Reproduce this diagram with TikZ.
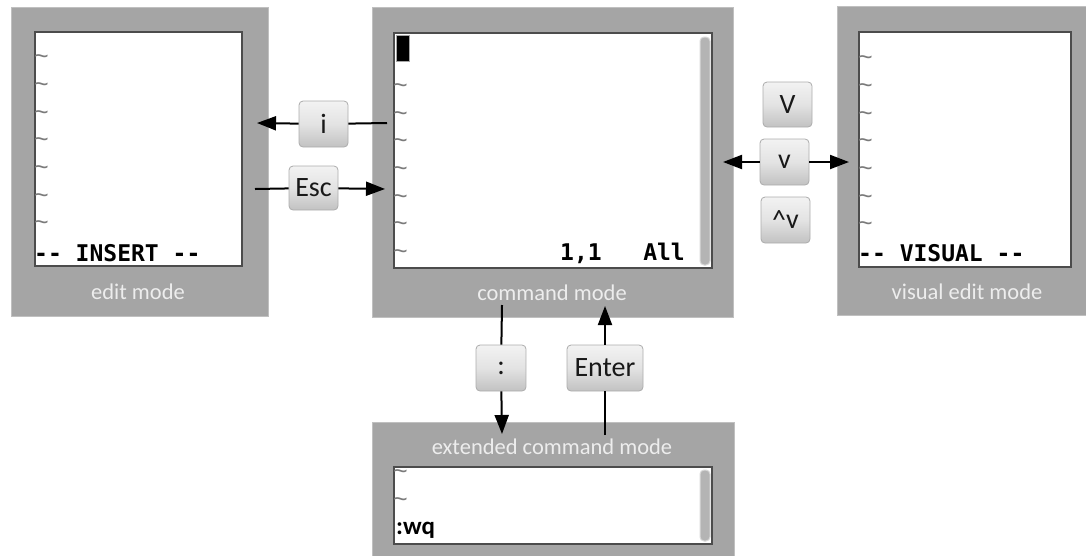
\documentclass[tikz,border=0pt]{standalone}
\usepackage{fontspec}
\setmainfont{Carlito}
\newfontfamily\monofnt{DejaVu Sans Mono}
\newfontfamily\tildefnt{Liberation Sans}
\usetikzlibrary{arrows.meta}
\definecolor{boxgray}{HTML}{A5A5A5}
\definecolor{labgray}{HTML}{EDEDED}
\definecolor{tildegray}{HTML}{7A7A7A}
\definecolor{scrollgray}{HTML}{B4B4B4}
\tikzset{
  modebox/.style={fill=boxgray, draw=boxgray!70!white, line width=0.8pt},
  screen/.style={fill=white, draw=black!70, line width=1.5pt},
  modelabel/.style={text=labgray, font=\fontsize{22.5}{24}\selectfont, inner sep=0pt},
  tld/.style={anchor=west, inner sep=0pt, text=tildegray, font=\tildefnt\fontsize{25}{25}\selectfont},
  monotxt/.style={inner sep=0pt, font=\monofnt\bfseries\fontsize{23}{23}\selectfont},
  keybox/.style={rounded corners=4pt, draw=gray!65, line width=0.8pt,
    top color=gray!10, bottom color=gray!48, middle color=gray!22,
    minimum width=49pt, minimum height=46pt, inner sep=0pt,
    text=black!90, font=\fontsize{28}{28}\selectfont},
  conn/.style={line width=2pt, black},
  tip/.style={-{Triangle[length=19pt,width=14pt]}},
  scroll/.style={fill=scrollgray, draw=gray!30, line width=1pt, rounded corners=4pt}
}
\begin{document}
\begin{tikzpicture}[x=1pt,y=-1pt]
\useasboundingbox (0,0) rectangle (1086,555);
% mode boxes
\node[modebox, minimum width=257pt, minimum height=309pt, inner sep=0pt] (editbox) at (139.5,161.5) {};
\node[modebox, minimum width=361pt, minimum height=310pt, inner sep=0pt] (cmdbox) at (552.5,162) {};
\node[modebox, minimum width=251pt, minimum height=309pt, inner sep=0pt] (visbox) at (962.5,160.5) {};
\node[modebox, minimum width=362pt, minimum height=135pt, inner sep=0pt] (extbox) at (553,490) {};
% screens
\node[screen, minimum width=207pt, minimum height=234pt, inner sep=0pt] (editscr) at (138.5,149) {};
\node[screen, minimum width=318pt, minimum height=235pt, inner sep=0pt] (cmdscr) at (553,150.5) {};
\node[screen, minimum width=212pt, minimum height=235pt, inner sep=0pt] (visscr) at (965,149.5) {};
\node[screen, minimum width=318pt, minimum height=77pt, inner sep=0pt] (extscr) at (553,505.5) {};
% labels
\node[modelabel] (editlab) at (138,292) {edit mode};
\node[modelabel] (cmdlab) at (552,293) {command mode};
\node[modelabel] (vislab) at (967,292) {visual edit mode};
\node[modelabel] (extlab) at (552,447) {extended command mode};
% scrollbars
\node[scroll, minimum width=10pt, minimum height=228pt, inner sep=0pt] (cmdscroll) at (705,151) {};
\node[scroll, minimum width=10pt, minimum height=71pt, inner sep=0pt] (extscroll) at (705,505.5) {};
% tildes
\foreach \yy [count=\k] in {60,88,116,143,171,199,226} {
  \node[tld] (et\k) at (34,\yy) {\textasciitilde};
  \node[tld] (vt\k) at (858,\yy+0.5) {\textasciitilde};
}
\foreach \yy [count=\k] in {89,117,144,172,200,227,255} {
  \node[tld] (ct\k) at (393,\yy) {\textasciitilde};
}
\node[tld] (xt1) at (393,475) {\textasciitilde};
\node[tld] (xt2) at (393,503) {\textasciitilde};
% cursor
\node[fill=black, draw=gray!70, line width=0.8pt, minimum width=13pt, minimum height=26pt, inner sep=0pt] (cursor) at (402.5,48) {};
% status texts
\node[monotxt, anchor=west] (ins) at (34,253) {-- INSERT --};
\node[monotxt, anchor=west] (vis) at (858,253) {-- VISUAL --};
\node[monotxt, anchor=east] (pos) at (685,253) {1,1\ \ \ All};
\node[anchor=west, inner sep=0pt, font=\bfseries\fontsize{25}{25}\selectfont] (wq) at (396,530) {:wq};
% keys
\node[keybox] (ikey) at (323.5,124) {i};
\node[keybox, minimum height=44pt] (esckey) at (313.5,188) {Esc};
\node[keybox, minimum height=45pt] (Vkey) at (787.5,104.5) {V};
\node[keybox] (vkey) at (784.5,162) {v};
\node[keybox] (cvkey) at (785.5,220) {\raisebox{-1pt}{\^{}}v};
\node[keybox, minimum width=50pt] (colkey) at (501,368) {:};
\node[keybox, minimum width=76pt] (enterkey) at (605,368) {Enter};
% connector endpoints
\coordinate (istart) at (387,123);
\coordinate (iend) at (257,123);
\coordinate (escstart) at (255,189);
\coordinate (escend) at (385,189);
\coordinate (vleft) at (723,162);
\coordinate (vright) at (849,162);
\coordinate (colstart) at (502,305);
\coordinate (colend) at (502,434);
\coordinate (entstart) at (605,435);
\coordinate (entend) at (605,306);
% connectors
\draw[conn] (istart) -- (ikey);
\draw[conn, tip] (ikey) -- (iend);
\draw[conn] (escstart) -- (esckey);
\draw[conn, tip] (esckey) -- (escend);
\draw[conn, tip] (vkey) -- (vleft);
\draw[conn, tip] (vkey) -- (vright);
\draw[conn] (colstart) -- (colkey);
\draw[conn, tip] (colkey) -- (colend);
\draw[conn] (entstart) -- (enterkey);
\draw[conn, tip] (enterkey) -- (entend);
\end{tikzpicture}
\end{document}
